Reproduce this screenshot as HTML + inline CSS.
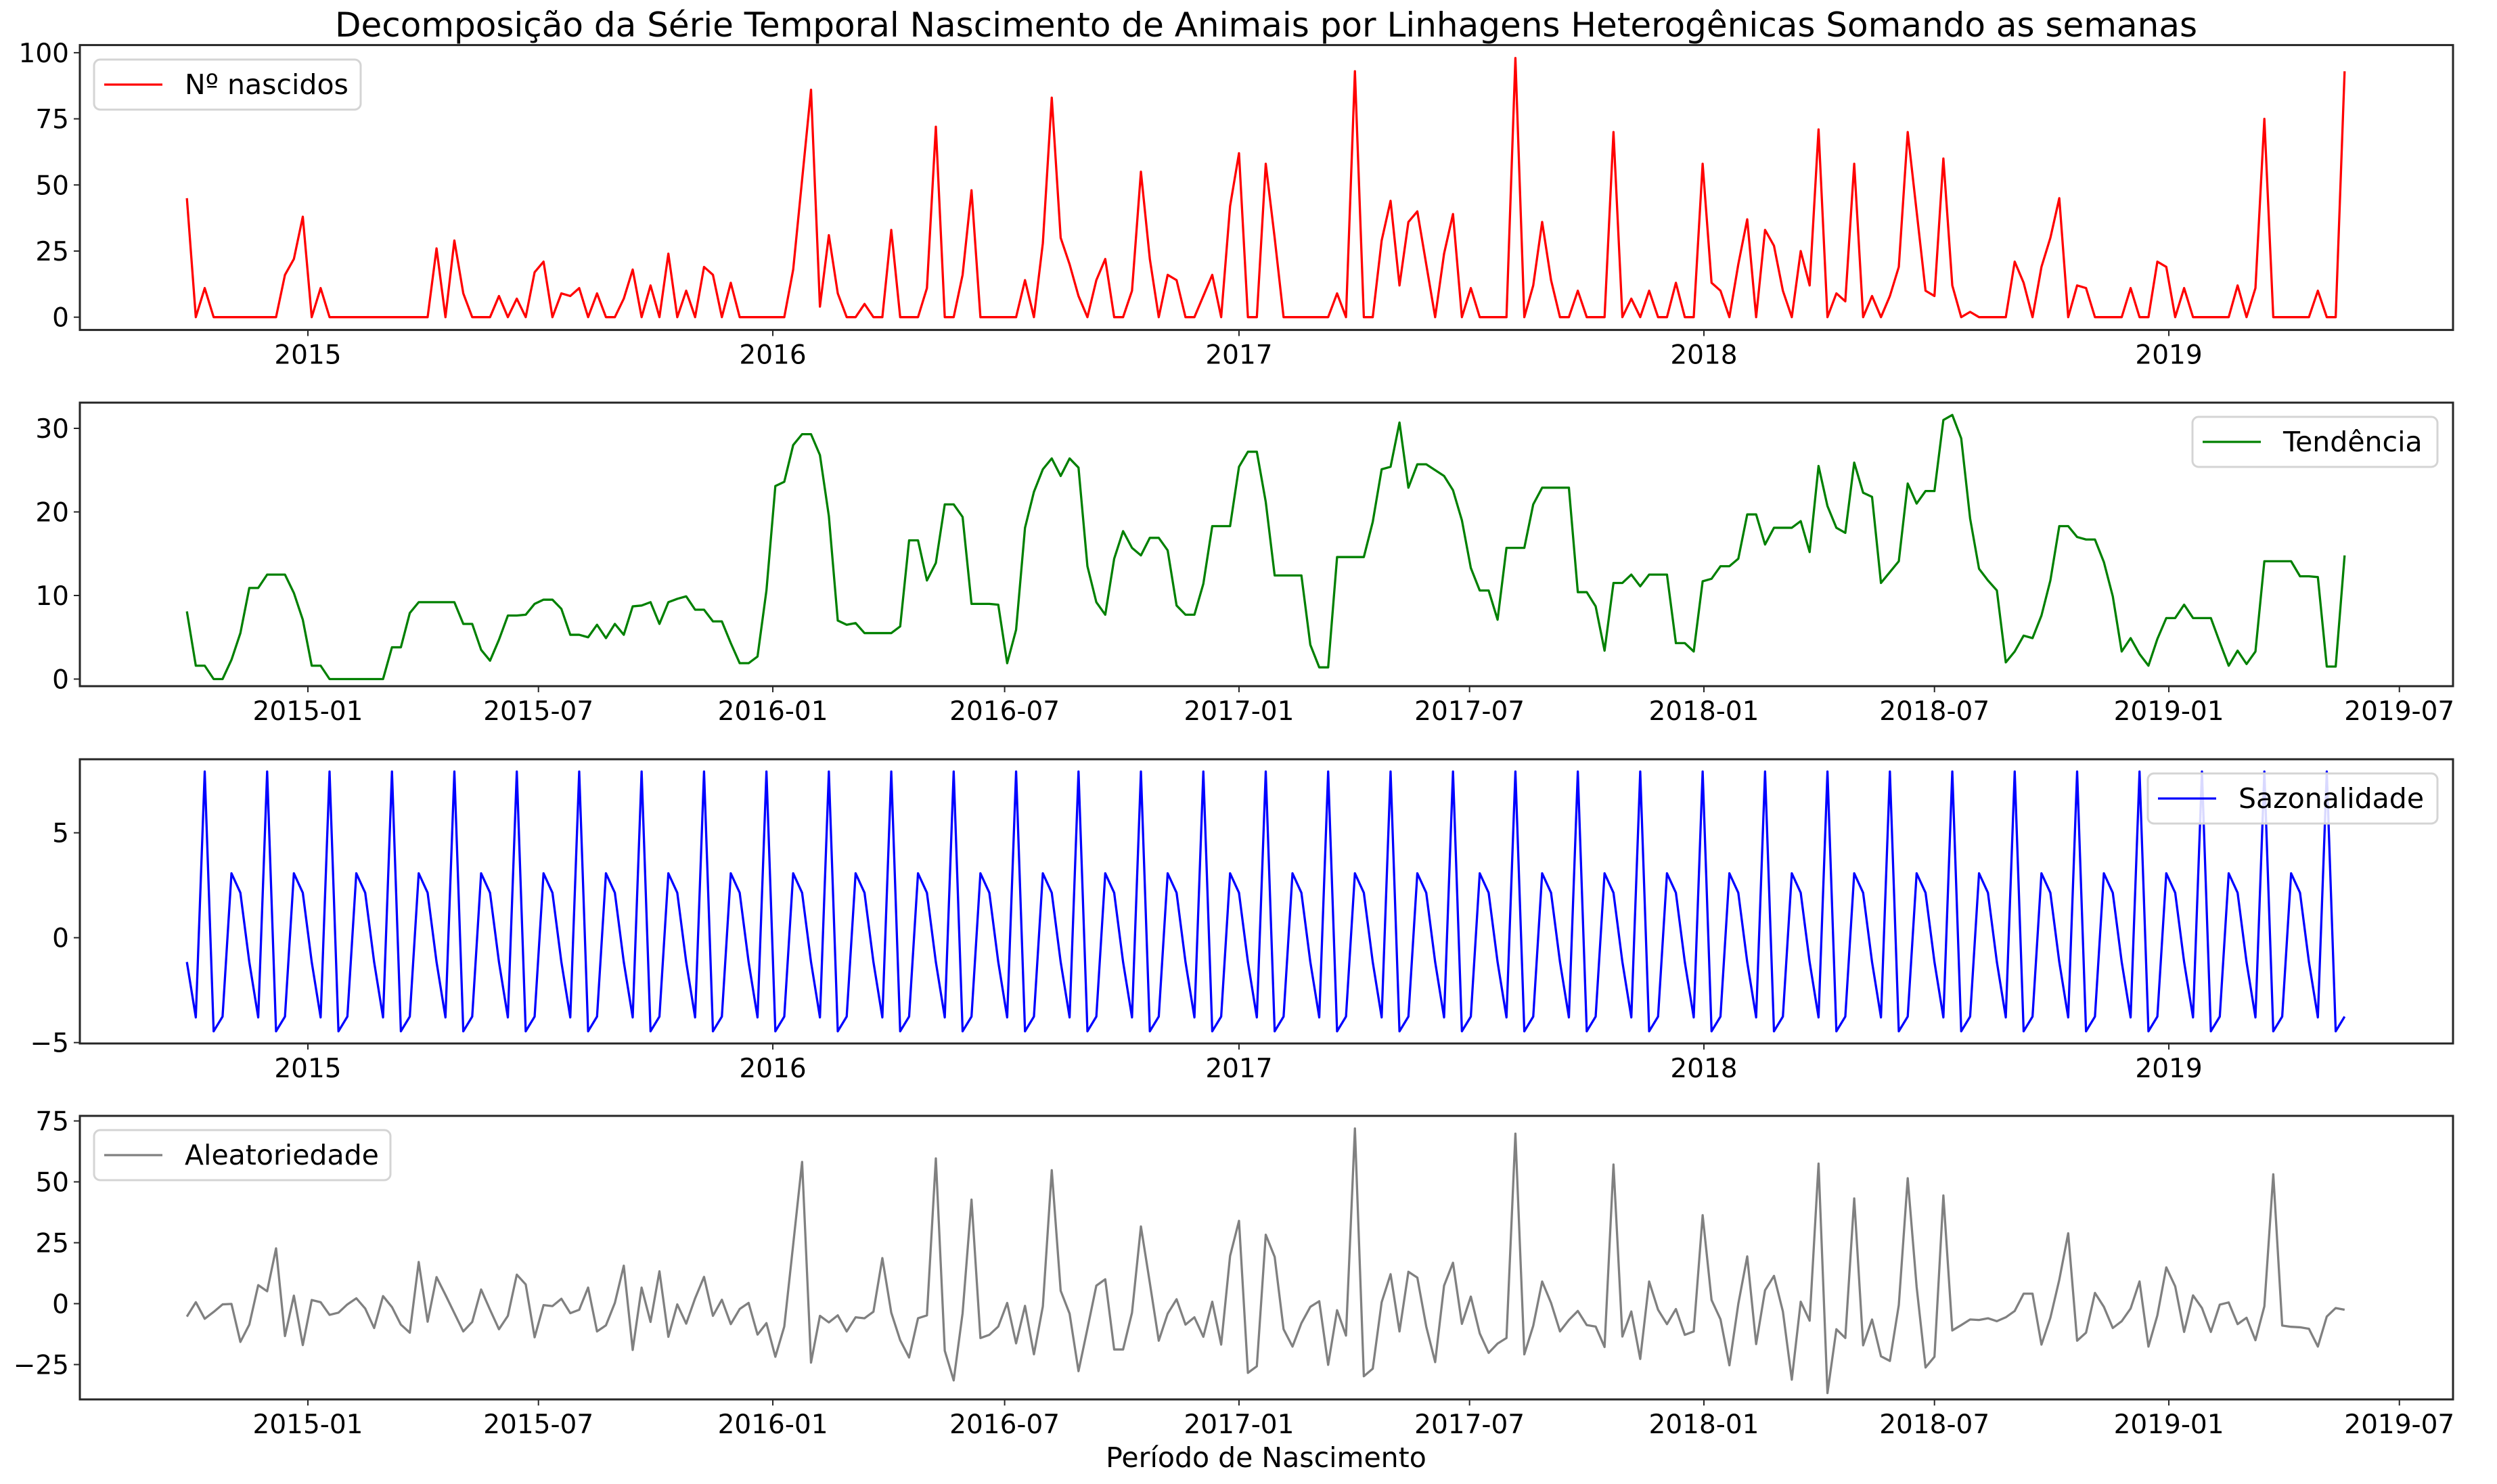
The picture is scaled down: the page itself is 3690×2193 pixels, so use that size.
<!DOCTYPE html>
<html>
<head>
<meta charset="utf-8">
<style>
  html, body { margin: 0; padding: 0; background: #ffffff; }
  body { width: 3690px; height: 2188px; overflow: hidden; }
  svg text { font-family: "DejaVu Sans", "Liberation Sans", sans-serif; fill: #000; }
</style>
</head>
<body>
<svg id="chart" xmlns="http://www.w3.org/2000/svg" width="3690" height="2188" viewBox="0 0 3690 2188">
  <rect x="0" y="0" width="3690" height="2188" fill="#ffffff"/>
  <text x="1871" y="54" font-size="50" text-anchor="middle">Decomposição da Série Temporal Nascimento de Animais por Linhagens Heterogênicas Somando as semanas</text>
  <g id="panels"></g>
  <text x="1871" y="2168" font-size="41" text-anchor="middle">Período de Nascimento</text>
</svg>
<script>
// ---- data (weekly series, first week 2014-09-28) ----
const startDate = "2014-09-28";
const observedValues = [45,0,11,0,0,0,0,0,0,0,0,16,22,38,0,11,0,0,0,0,0,0,0,0,0,0,0,0,26,0,29,9,0,0,0,8,0,7,0,17,21,0,9,8,11,0,9,0,0,7,18,0,12,0,24,0,10,0,19,16,0,13,0,0,0,0,0,0,18,52,86,4,31,9,0,0,5,0,0,33,0,0,0,
11,72,0,0,16,48,0,0,0,0,0,14,0,28,83,30,20,8,0,14,22,0,0,10,55,22,0,16,14,0,0,8,16,0,42,62,0,0,58,30,0,0,0,0,0,0,9,0,93,0,0,29,44,12,36,40,20,0,24,39,0,11,0,0,0,0,98,0,12,36,14,0,0,10,0,0,0,70,0,7,0,10,
0,0,13,0,0,58,13,10,0,20,37,0,33,27,10,0,25,12,71,0,9,6,58,0,8,0,8,19,70,40,10,8,60,12,0,2,0,0,0,0,21,13,0,19,30,45,0,12,11,0,0,0,0,11,0,0,21,19,0,11,0,0,0,0,0,12,0,11,75,0,0,0,0,0,10,0,0,93];
const trendValues = [8.1,1.6,1.6,0,0,2.3,5.5,10.9,10.9,12.5,12.5,12.5,10.3,7.1,1.6,1.6,0,0,0,0,0,0,0,
3.8,3.8,7.9,9.2,9.2,9.2,9.2,9.2,6.6,6.6,3.5,2.2,4.7,7.6,7.6,7.7,9.0,9.5,9.5,8.4,5.3,5.3,5.0,6.5,4.9,6.6,5.3,8.7,8.8,9.2,6.6,9.2,9.6,9.9,8.3,8.3,6.9,6.9,4.3,1.9,1.9,2.7,10.6,23.1,23.6,28.0,29.3,29.3,26.8,19.5,7.0,6.5,6.7,5.5,5.5,5.5,5.5,6.3,16.6,16.6,11.8,13.9,20.9,20.9,19.4,9.0,9.0,9.0,8.9,1.9,5.9,18.1,22.4,25.1,26.4,24.3,26.4,25.3,13.5,9.2,7.7,14.4,17.7,15.7,14.8,16.9,16.9,15.4,8.8,7.7,7.7,11.4,18.3,18.3,18.3,25.4,27.2,27.2,
21.2,12.4,12.4,12.4,12.4,4.1,1.4,1.4,14.6,14.6,14.6,14.6,18.8,25.1,25.4,30.7,22.9,25.7,25.7,25.0,24.3,22.6,19.0,13.3,10.6,10.6,7.1,15.7,15.7,15.7,20.9,22.9,22.9,22.9,22.9,10.4,10.4,8.7,3.4,11.5,11.5,12.5,11.1,12.5,12.5,12.5,4.3,4.3,3.3,11.7,12.0,13.5,13.5,14.4,19.7,19.7,16.1,18.1,18.1,18.1,18.9,15.2,25.5,20.7,18.1,17.5,25.9,22.3,21.8,11.5,12.8,14.1,23.4,21.0,22.5,22.5,31.0,31.6,28.8,19.2,13.2,11.8,10.6,2.0,3.3,5.2,4.9,7.6,11.8,18.3,18.3,17.0,16.7,16.7,14.0,9.9,3.3,4.9,3.0,1.6,4.8,7.3,7.3,8.9,7.3,7.3,7.3,4.4,1.6,3.4,1.8,3.3,14.1,14.1,14.1,14.1,12.3,12.3,12.2,1.5,1.5,14.8];
const seasonalPattern = [-1.16,-3.8,7.92,-4.46,-3.76,3.07,2.14];
const residualValues = [-5.3,0.6,-6.2,-3.4,-0.3,-0.1,-15.7,-8.6,7.6,5.1,22.7,-13.3,3.3,-17.0,1.5,0.6,-4.6,-3.7,-0.3,2.2,-2.0,
-10.0,3.1,-1.4,-8.6,-11.9,17.1,-7.4,10.9,3.6,-3.9,-11.4,-7.5,5.8,-2.5,-10.5,-5.0,11.9,7.9,-13.8,-0.6,-1.0,
2.0,-3.9,-2.5,6.6,-11.4,-8.9,0.3,15.6,-19.0,6.6,-7.5,13.3,-13.6,-0.3,-8.2,2.2,11.0,-5.0,1.6,-8.4,
-2.2,0.3,-12.7,-8.0,-21.8,-9.4,24.3,58.2,-24.2,-5.0,-7.7,-4.8,-11.4,-5.6,-6.0,-3.3,18.7,-3.7,-15.0,-22.1,-6.0,
-4.8,59.6,-19.3,-31.5,-3.9,42.7,-14.1,-12.8,-9.4,0.3,-16.3,-0.9,-20.8,-1.1,54.8,5.3,-4.1,-27.7,-10.3,7.4,
10.0,-18.8,-18.8,-3.7,31.7,8.5,-15.2,-4.1,1.8,-8.6,-5.6,-13.6,0.8,-16.8,19.6,34.0,-28.4,-25.7,28.3,
19.2,-10.5,-17.6,-8.0,-1.3,1.0,-25.1,-2.7,-13.1,71.9,-29.8,-26.7,0.6,12.1,-11.4,13.1,10.7,-9.4,-24.0,7.4,
16.8,-8.3,2.9,-12.2,-20.2,-16.4,-14.1,69.8,-20.8,-9.1,9.1,0.3,-11.4,-6.7,-3.0,-8.8,-9.4,-17.8,57.1,-13.5,
-3.2,-22.7,9.1,-2.5,-8.4,-2.2,-12.8,-11.4,36.3,1.5,-6.4,-25.3,-0.1,19.4,-16.6,5.5,11.4,-3.2,-31.2,0.8,
-7.0,57.5,-36.7,-10.5,-14.1,43.2,-17.1,-6.5,-21.6,-23.5,-0.6,51.5,6.9,-26.2,-21.8,44.4,-11.0,-8.8,-6.5,-6.7,
-6.0,-7.2,-5.6,-3.0,4.1,4.1,-16.8,-5.8,9.8,28.9,-15.2,-11.9,4.4,-1.3,-10.0,-7.2,-2.0,9.1,-17.6,-4.8,14.9,
7.1,-11.6,3.4,-1.8,-11.6,-0.4,0.5,-8.4,-5.8,-15.0,-1.1,53.1,-9.0,-9.5,-9.7,-10.3,-17.6,-5.3,-1.8,-2.5];
const yearTicks = ["2015","2016","2017","2018","2019"];
const monthTicks = ["2015-01","2015-07","2016-01","2016-07","2017-01","2017-07","2018-01","2018-07","2019-01","2019-07"];
const yTicksObserved = [0,25,50,75,100];
const yTicksTrend = [0,10,20,30];
const yTicksSeasonal = [-5,0,5];
const yTicksResidual = [-25,0,25,50,75];

// ---- scales ----
const X0 = 118, X1 = 3625;
const REF = Date.UTC(2015,0,1), PX_PER_DAY = 1.8823, REF_X = 455;
function xOfDate(ms){ return REF_X + (ms - REF)/86400000*PX_PER_DAY; }
function parseTick(s){ const p = s.split("-"); return Date.UTC(+p[0], p[1] ? (+p[1]-1) : 0, 1); }
const startMs = Date.UTC(+startDate.slice(0,4), +startDate.slice(5,7)-1, +startDate.slice(8,10));
function xOfIndex(i){ return xOfDate(startMs + i*7*86400000); }

const NS = "http://www.w3.org/2000/svg";
const root = document.getElementById("panels");
function mk(tag, attrs, parent){ const e = document.createElementNS(NS, tag); for (const k in attrs) e.setAttribute(k, attrs[k]); (parent||root).appendChild(e); return e; }

function drawPanel(cfg){
  const g = mk("g", {});
  
  
  const y = v => cfg.y0 - v*cfg.k;
  let d = "";
  cfg.values.forEach((v,i)=>{ d += (i? "L":"M") + xOfIndex(i).toFixed(2) + "," + y(v).toFixed(2); });
  const line = mk("path", {d:d, fill:"none", stroke:cfg.color, "stroke-width":3.3, "stroke-linejoin":"round"}, g);
  
  
  const fr = mk("rect", {x:X0, y:cfg.top, width:X1-X0, height:cfg.bottom-cfg.top, fill:"none", stroke:"#262626", "stroke-width":3}, g);
  
  
  cfg.yTicks.forEach(t=>{
    const yy = y(t);
    const tk = mk("line", {x1:X0-9, x2:X0, y1:yy, y2:yy, stroke:"#262626", "stroke-width":2}, g);
    
    
    const tx = mk("text", {x:X0-16, y:yy+14, "font-size":39, "text-anchor":"end"}, g);
    tx.textContent = (t<0? "\u2212"+Math.abs(t) : String(t));
    
    
  });
  cfg.xTicks.forEach(s=>{
    const xx = xOfDate(parseTick(s));
    const tk = mk("line", {x1:xx, x2:xx, y1:cfg.bottom, y2:cfg.bottom+9, stroke:"#262626", "stroke-width":2}, g);
    
    
    const tx = mk("text", {x:xx, y:cfg.bottom+50, "font-size":39, "text-anchor":"middle"}, g);
    tx.textContent = s;
    
    
  });
  const L = cfg.legend;
  const lg = mk("g", {}, g);
  
  
  mk("rect", {x:L.x, y:L.y, width:L.w, height:L.h, rx:9, fill:"#ffffff", "fill-opacity":0.85, stroke:"#d4d4d4", "stroke-width":3}, lg);
  const ll = mk("line", {x1:L.x+15, x2:L.x+101, y1:L.y+L.h/2, y2:L.y+L.h/2, stroke:cfg.color, "stroke-width":3.3}, lg);
  
  
  const lt = mk("text", {x:L.x+134, y:L.y+L.h/2+14, "font-size":41}, lg);
  lt.textContent = cfg.label;
  
  
}

const seasonalValues = observedValues.map((_,i)=>seasonalPattern[i % seasonalPattern.length]);

drawPanel({name:"observed", values:observedValues, color:"#ff0000", top:66.6, bottom:487.6, y0:468.7, k:3.908,
  yTicks:yTicksObserved, xTicks:yearTicks, label:"Nº nascidos", legend:{x:139,y:88,w:394,h:74}});
drawPanel({name:"trend", values:trendValues, color:"#008000", top:595, bottom:1014, y0:1003.5, k:12.35,
  yTicks:yTicksTrend, xTicks:monthTicks, label:"Tendência", legend:{x:3240,y:616,w:362,h:74}});
drawPanel({name:"seasonal", values:seasonalValues, color:"#0000ff", top:1122, bottom:1542, y0:1385.7, k:31,
  yTicks:yTicksSeasonal, xTicks:yearTicks, label:"Sazonalidade", legend:{x:3174,y:1143,w:428,h:74}});
drawPanel({name:"residual", values:residualValues, color:"#808080", top:1649, bottom:2068, y0:1926.5, k:3.6,
  yTicks:yTicksResidual, xTicks:monthTicks, label:"Aleatoriedade", legend:{x:139,y:1670,w:438,h:74}});
</script>
</body>
</html>
